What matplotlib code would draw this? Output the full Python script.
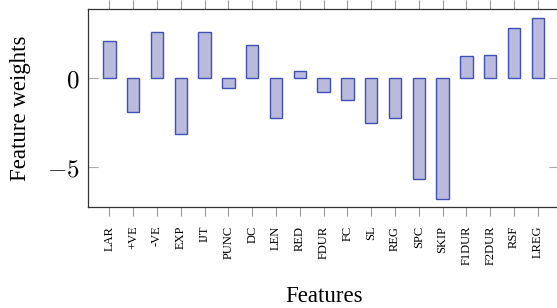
import numpy as np
import matplotlib
matplotlib.use("Agg")
import matplotlib.pyplot as plt

# feature weights
features = ["LAR", "+VE", "-VE", "EXP", "IJT", "PUNC", "DC", "LEN", "RED", "FDUR",
            "FC", "SL", "REG", "SPC", "SKIP", "F1DUR", "F2DUR", "RSF", "LREG"]
weights = [2.08, -1.91, 2.58, -3.15, 2.62, -0.56, 1.85, -2.25, 0.39, -0.79,
           -1.24, -2.51, -2.25, -5.67, -6.76, 1.24, 1.31, 2.81, 3.37]

plt.rcParams['mathtext.fontset'] = 'cm'
serif = ['Liberation Serif', 'DejaVu Serif']

fig = plt.figure(figsize=(5.57, 3.08), dpi=100)
ax = fig.add_axes([0.158, 0.328, 0.846, 0.643])

x = np.arange(len(features))
ax.bar(x, weights, width=0.52, color='#babadd', edgecolor='#3f51b5', linewidth=1.0)

ax.set_xlim(-0.9, 18.9)
ax.set_ylim(-7.23, 3.89)

ax.set_xticks(x)
ax.set_xticklabels(features, rotation=90, family=serif, fontsize=9)
ax.set_yticks([-5, 0])
ax.set_yticklabels(['$-5$', '$0$'], fontsize=18)

ax.tick_params(axis='x', direction='out', length=6.5, width=0.8, color='#999999',
               top=True, pad=7)
ax.tick_params(axis='y', direction='in', length=7, width=0.8, color='#aaaaaa',
               right=True, pad=6)

for s in ax.spines.values():
    s.set_color('#333333')
    s.set_linewidth(0.9)

ax.set_xlabel('Features', family=serif, fontsize=16.5, labelpad=15)
ax.set_ylabel('Feature weights', family=serif, fontsize=16.5, labelpad=8)
ax.yaxis.set_label_coords(-0.12, 0.5)

fig.savefig('out.png', dpi=100)
